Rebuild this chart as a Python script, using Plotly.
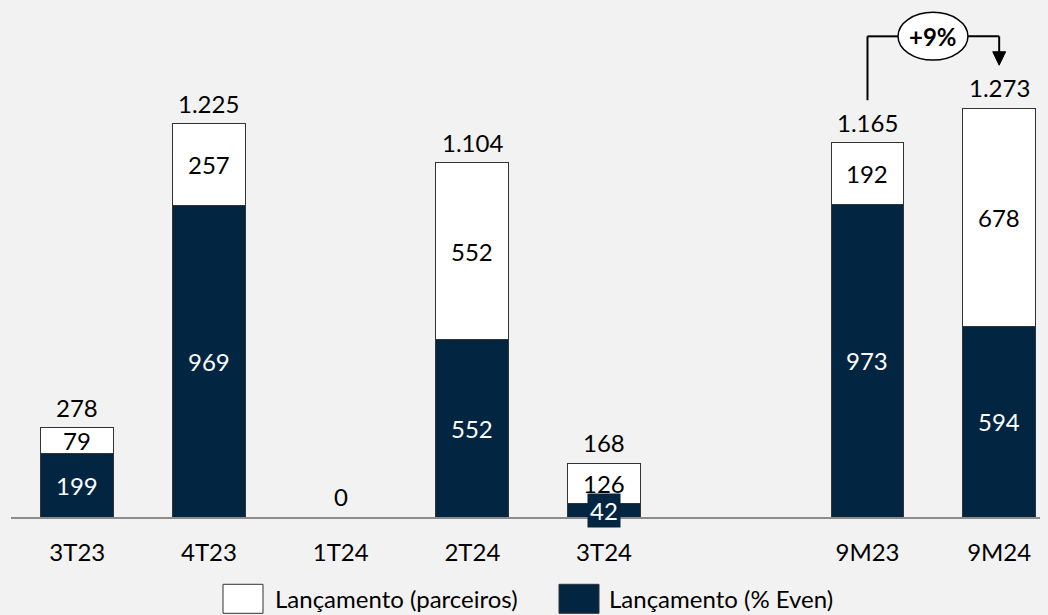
import plotly.graph_objects as go

categories = ["3T23", "4T23", "1T24", "2T24", "3T24", "9M23", "9M24"]
positions = [0, 1, 2, 3, 4, 6, 7]
even = [199, 969, 0, 552, 42, 973, 594]
parceiros = [79, 257, 0, 552, 126, 192, 678]
totals = [278, 1225, 0, 1104, 168, 1165, 1273]
growth_label = "+9%"

DARK = "#022541"
FONT = "Lato"
FS = 24

def fmt(v):
    return f"{v:,}".replace(",", ".")

fig = go.Figure()
fig.add_trace(go.Bar(x=positions, y=even, name="Lançamento (% Even)",
                     marker=dict(color=DARK, line=dict(color="#333333", width=1)),
                     width=0.553, hoverinfo="skip"))
fig.add_trace(go.Bar(x=positions, y=parceiros, name="Lançamento (parceiros)",
                     marker=dict(color="white", line=dict(color="#333333", width=1)),
                     width=0.553, hoverinfo="skip"))

ann = []
for p, e, w, t in zip(positions, even, parceiros, totals):
    if e > 0:
        small = e < 80
        ann.append(dict(x=p, y=e / 2, text=fmt(e), showarrow=False,
                        font=dict(family=FONT, size=FS, color="white"),
                        bgcolor=DARK if small else None, borderpad=2 if small else 1))
    if w > 0:
        ann.append(dict(x=p, y=e + w / 2, text=fmt(w), showarrow=False,
                        font=dict(family=FONT, size=FS, color="black")))
    ann.append(dict(x=p, y=t, text=fmt(t), showarrow=False, yanchor="bottom", yshift=4,
                    font=dict(family=FONT, size=FS, color="black")))

# growth bracket between 9M23 and 9M24
x0, x1 = positions[5], positions[6]
yl = 1497
shapes = [
    dict(type="line", x0=x0, x1=x0, y0=1298, y1=yl, line=dict(color="black", width=2)),
    dict(type="line", x0=x0, x1=6.232, y0=yl, y1=yl, line=dict(color="black", width=2)),
    dict(type="line", x0=6.763, x1=x1, y0=yl, y1=yl, line=dict(color="black", width=2)),
    dict(type="line", x0=x1, x1=x1, y0=yl, y1=1445, line=dict(color="black", width=2)),
    dict(type="path", path=f"M {x1-0.049},1449 L {x1+0.049},1449 L {x1},1407 Z",
         fillcolor="black", line=dict(color="black", width=1)),
    dict(type="circle", x0=6.232, x1=6.763, y0=1423, y1=1572,
         fillcolor="white", line=dict(color="black", width=1.5)),
]
ann.append(dict(x=(6.232 + 6.763) / 2, y=yl, text=f"<b>{growth_label}</b>", showarrow=False,
                font=dict(family=FONT, size=FS, color="black")))

# custom legend
def px_x(px):
    return (px - 11) / 1029

def px_y(py):
    return (516.7 - py) / 507

legend_items = [("Lançamento (parceiros)", "white", 223, 273),
                ("Lançamento (% Even)", DARK, 559, 607)]
for label, col, bx, tx in legend_items:
    shapes.append(dict(type="rect", xref="paper", yref="paper",
                       x0=px_x(bx), x1=px_x(bx + 40), y0=px_y(613), y1=px_y(584),
                       fillcolor=col, line=dict(color="#333333", width=1)))
    ann.append(dict(xref="paper", yref="paper", x=px_x(tx), y=px_y(598), text=label,
                    xanchor="left", yanchor="middle", showarrow=False,
                    font=dict(family=FONT, size=FS, color="black")))

fig.update_layout(
    width=1048, height=615,
    barmode="stack",
    showlegend=False,
    paper_bgcolor="#f2f2f2", plot_bgcolor="#f2f2f2",
    margin=dict(l=11, r=8, t=10, b=98),
    font=dict(family=FONT, size=FS, color="black"),
    xaxis=dict(range=[-0.5034, 7.310], tickvals=positions, ticktext=categories,
               showline=True, linecolor="#8c8c8c", linewidth=2, showgrid=False,
               zeroline=False, ticks="", ticklabelstandoff=13,
               tickfont=dict(family=FONT, size=FS, color="black")),
    yaxis=dict(range=[0, 1579], visible=False, showgrid=False, zeroline=False),
    shapes=shapes,
    annotations=ann,
)

fig.write_html(
    "out.html",
    config={"displayModeBar": False},
    post_script="document.body.style.margin='0';document.body.style.padding='0';"
                "document.body.style.background='#f2f2f2';document.body.style.overflow='hidden';",
)
